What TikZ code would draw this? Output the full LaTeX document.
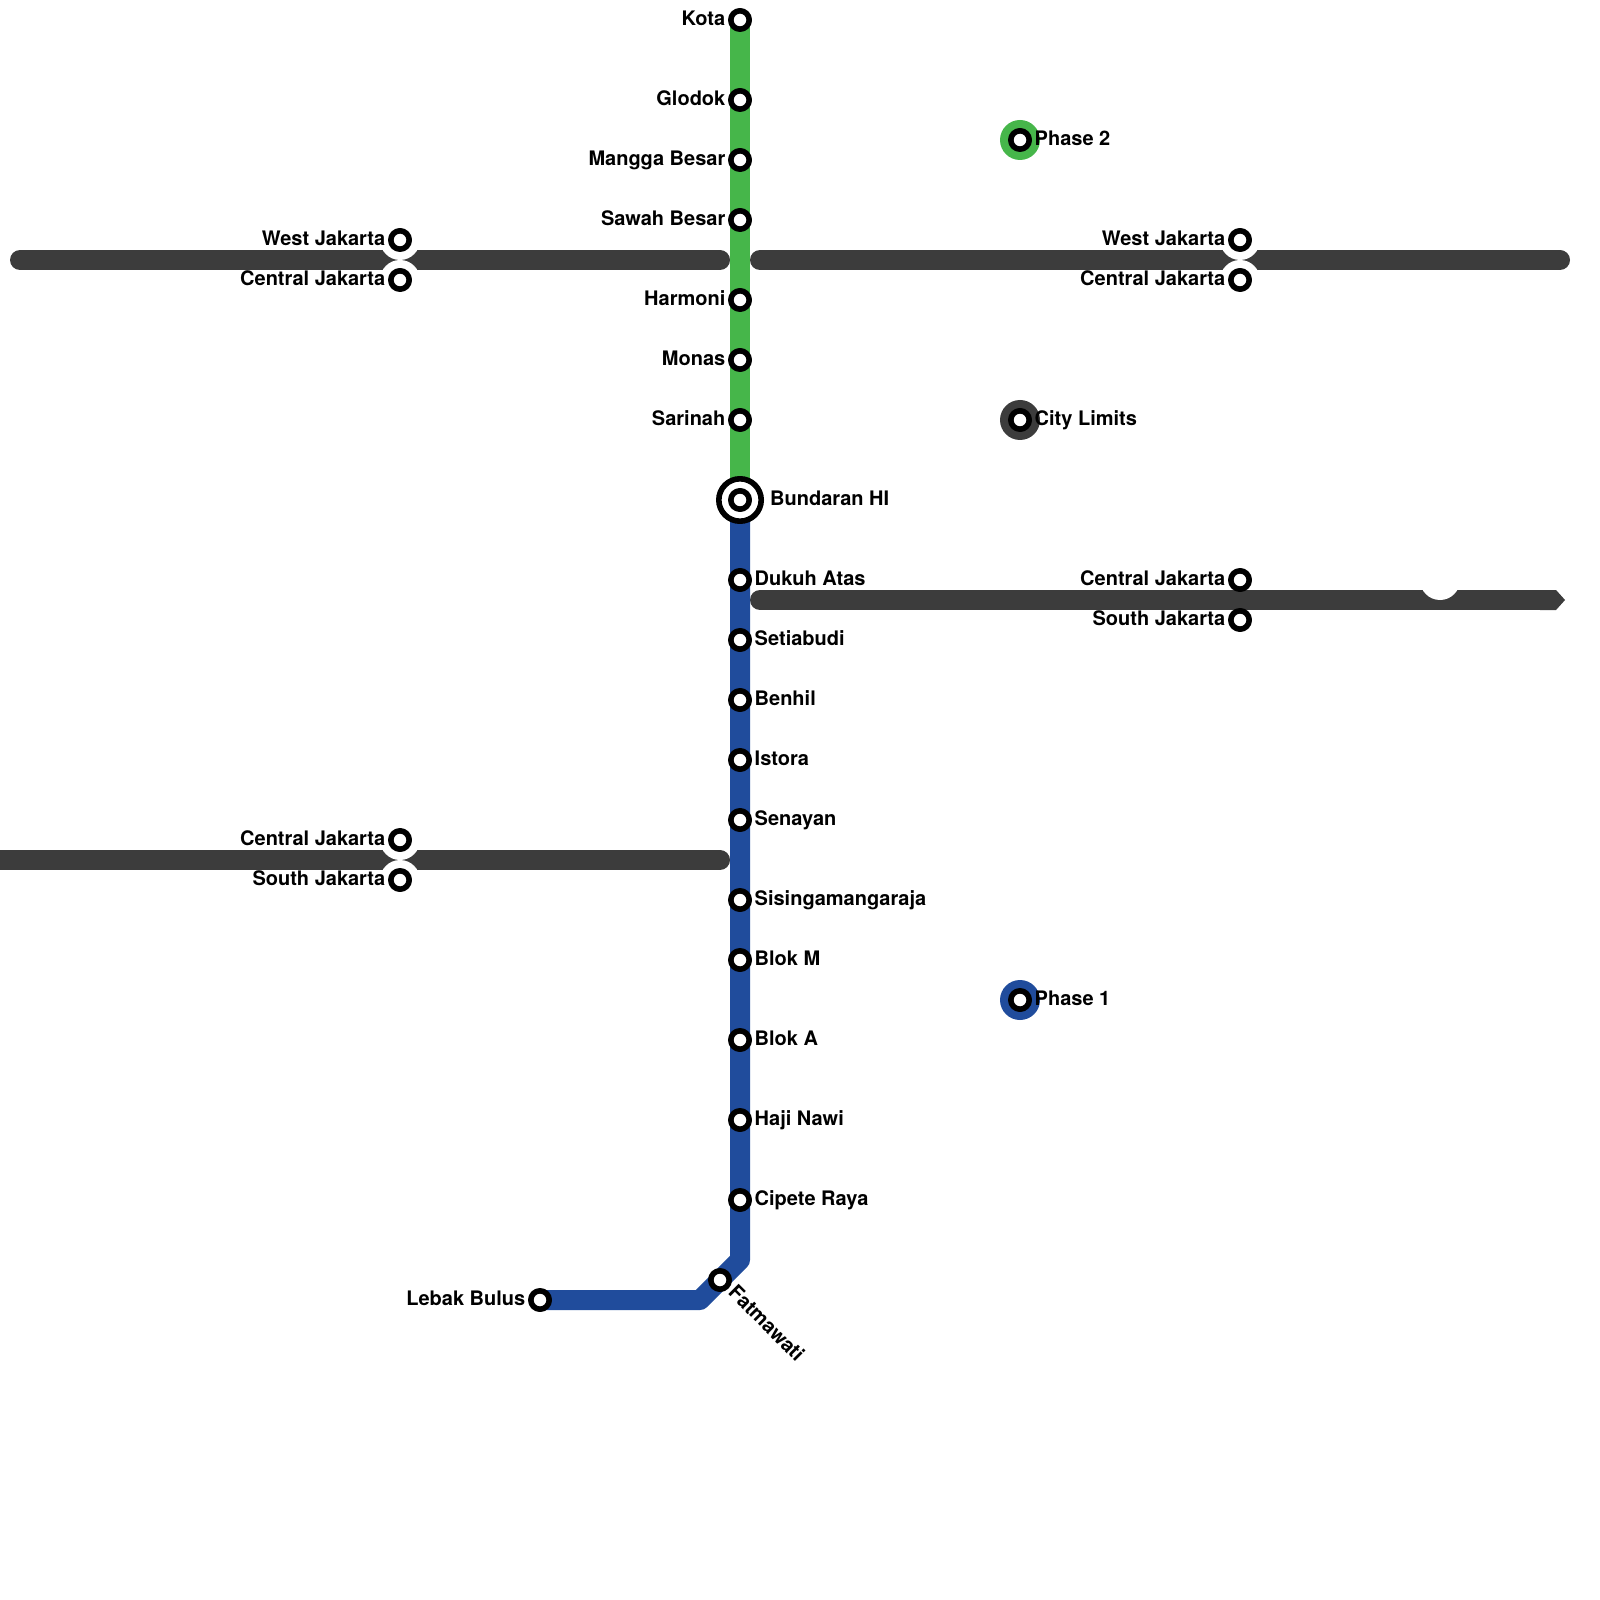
\documentclass[tikz,border=0pt]{standalone}
\usepackage{fontspec}
\setmainfont{TeX Gyre Heros}
\usetikzlibrary{positioning}
\definecolor{linegreen}{HTML}{46B64A}
\definecolor{lineblue}{HTML}{204C9C}
\definecolor{linegray}{HTML}{3C3C3C}
\tikzset{
station/.style={circle,draw=black,fill=white,line width=.056cm,minimum size=.184cm,inner sep=0pt},
halo/.style={circle,fill=white,minimum size=.4cm,inner sep=0pt},
legenddot/.style={circle,minimum size=.4cm,inner sep=0pt},
stationname/.style={font=\bfseries\fontsize{5.69pt}{6pt}\selectfont,inner sep=0pt,text height=.15cm,text depth=.04cm},
track/.style={line width=.2cm},
bar/.style={track,color=linegray,line cap=round}
}
\begin{document}
\begin{tikzpicture}[line join=round,x=1cm,y=-1cm]
\useasboundingbox (0,0) rectangle (16,16);
% Ends of the bars
\coordinate (barAl) at (.2,2.6);
\coordinate (barAr) at (7.2,2.6);
\coordinate (barBl) at (7.6,2.6);
\coordinate (barBr) at (15.6,2.6);
\coordinate (barCl) at (7.6,6);
\coordinate (barCr) at (15.4,6);
\coordinate (barDl) at (-.4,8.6);
\coordinate (barDr) at (7.2,8.6);
% Bars
\draw[bar] (barAl) -- (barAr);
\draw[bar] (barBl) -- (barBr);
\draw[bar] (barCl) -- (barCr);
\draw[bar] (barDl) -- (barDr);
\fill[linegray] (15.4,5.9) -- (15.56,5.9) -- (15.65,6) -- (15.56,6.1) -- (15.4,6.1) -- cycle;
% White gaps in the bars
\foreach \n/\x/\y in {a/4/2.4,b/4/2.8,c/12.4/2.4,d/12.4/2.8,e/14.4/5.8,f/4/8.4,g/4/8.8}
\node[halo] (halo\n) at (\x,\y) {};
% Points of the lines
\coordinate (kota) at (7.4,.2);
\coordinate (bundaran) at (7.4,5);
\coordinate (bendA) at (7.4,12.6);
\coordinate (bendB) at (7,13);
\coordinate (lebak) at (5.4,13);
% Lines
\draw[track,color=linegreen] (kota) -- (bundaran);
\draw[track,color=lineblue] (bundaran) -- (bendA) -- (bendB) -- (lebak);
% Legend dots
\node[legenddot,fill=linegreen] (dotTwo) at (10.2,1.4) {};
\node[legenddot,fill=linegray] (dotCity) at (10.2,4.2) {};
\node[legenddot,fill=lineblue] (dotOne) at (10.2,10) {};
% Stations, name on the left
\foreach \n/\x/\y/\t in {kota/7.4/.2/Kota,glodok/7.4/1/Glodok,mangga/7.4/1.6/Mangga Besar,sawah/7.4/2.2/Sawah Besar,harmoni/7.4/3/Harmoni,monas/7.4/3.6/Monas,sarinah/7.4/4.2/Sarinah,lebak/5.4/13/Lebak Bulus,wjA/4/2.4/West Jakarta,cjA/4/2.8/Central Jakarta,wjB/12.4/2.4/West Jakarta,cjB/12.4/2.8/Central Jakarta,cjC/12.4/5.8/Central Jakarta,sjC/12.4/6.2/South Jakarta,cjD/4/8.4/Central Jakarta,sjD/4/8.8/South Jakarta}
{\node[station] (st\n) at (\x,\y) {};
\node[stationname,left=.14cm of {\x,\y}] (name\n) {\t};}
% Stations, name on the right
\foreach \n/\x/\y/\t in {dukuh/7.4/5.8/Dukuh Atas,setia/7.4/6.4/Setiabudi,benhil/7.4/7/Benhil,istora/7.4/7.6/Istora,senayan/7.4/8.2/Senayan,sisinga/7.4/9/Sisingamangaraja,blokm/7.4/9.6/Blok M,bloka/7.4/10.4/Blok A,haji/7.4/11.2/Haji Nawi,cipete/7.4/12/Cipete Raya,two/10.2/1.4/Phase 2,city/10.2/4.2/City Limits,one/10.2/10/Phase 1}
{\node[station] (st\n) at (\x,\y) {};
\node[stationname,right=.14cm of {\x,\y}] (name\n) {\t};}
% Interchange
\node[circle,draw=black,fill=white,line width=.056cm,minimum size=.424cm,inner sep=0pt] (ringHI) at (bundaran) {};
\node[station] (stHI) at (bundaran) {};
\node[stationname,right=.295cm of bundaran] (nameHI) {Bundaran HI};
% Slanted name
\node[station] (stfat) at (7.2,12.8) {};
\node[stationname,rotate=-45,anchor=west] (namefat) at (7.307,12.893) {Fatmawati};
\end{tikzpicture}
\end{document}
